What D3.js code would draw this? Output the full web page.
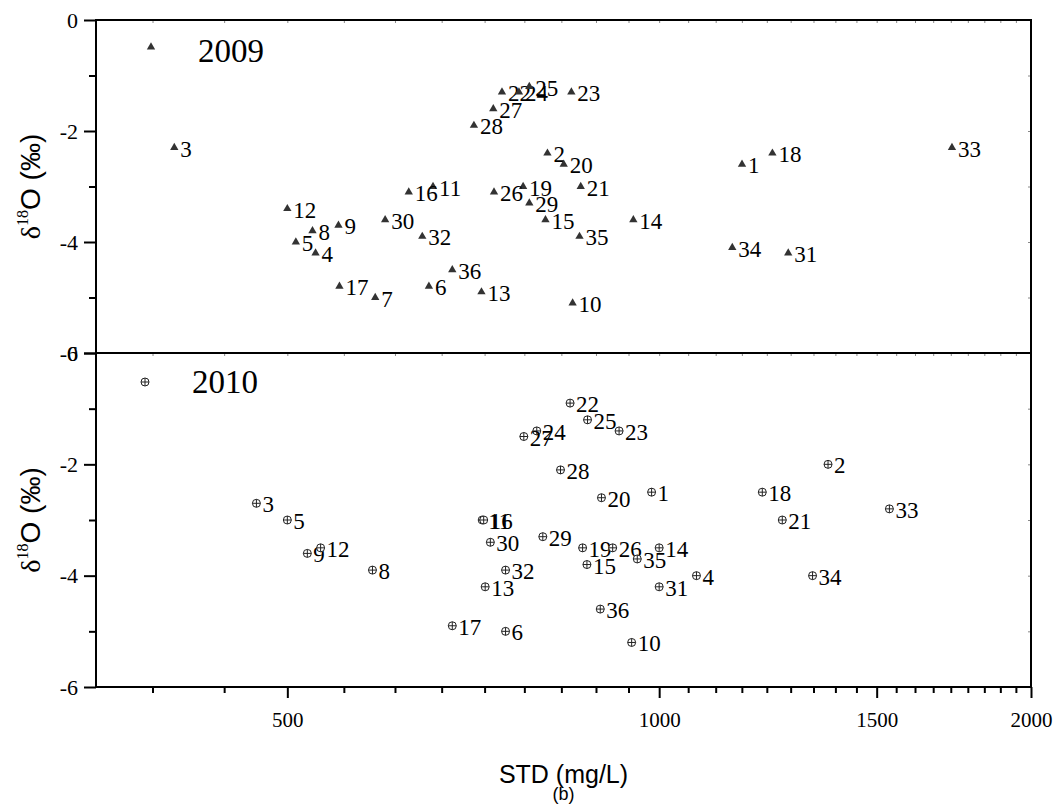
<!DOCTYPE html>
<html>
<head>
<meta charset="utf-8">
<script src="https://cdn.jsdelivr.net/npm/d3@7"></script>
<style>
  body { margin: 0; background: #fff; }
</style>
</head>
<body>
<div id="chart"></div>
<script>
// site numbers and values, 2009
const ids2009 = [1, 2, 3, 4, 5, 6, 7, 8, 9, 10, 11, 12, 13, 14, 15, 16, 17, 18,
  19, 20, 21, 22, 23, 24, 25, 26, 27, 28, 29, 30, 31, 32, 33, 34, 35, 36];
const std2009 = [1167, 812, 405, 527, 508, 651, 589, 524, 550, 851, 656, 500, 718, 953, 809, 627, 551, 1235,
  776, 837, 864, 746, 849, 770, 785, 735, 734, 708, 785, 600, 1272, 643, 1726, 1146, 862, 680];
const o18_2009 = [-2.6, -2.4, -2.3, -4.2, -4.0, -4.8, -5.0, -3.8, -3.7, -5.1, -3.0, -3.4, -4.9, -3.6, -3.6, -3.1, -4.8, -2.4,
  -3.0, -2.6, -3.0, -1.3, -1.3, -1.3, -1.2, -3.1, -1.6, -1.9, -3.3, -3.6, -4.2, -3.9, -2.3, -4.1, -3.9, -4.5];

// 2010 (no site 7)
const ids2010 = [1, 2, 3, 4, 5, 6, 8, 9, 10, 11, 12, 13, 14, 15, 16, 17, 18,
  19, 20, 21, 22, 23, 24, 25, 26, 27, 28, 29, 30, 31, 32, 33, 34, 35, 36];
const std2010 = [986, 1370, 472, 1072, 500, 751, 586, 519, 950, 719, 532, 723, 1000, 874, 721, 680, 1212,
  867, 898, 1258, 847, 928, 796, 875, 917, 777, 832, 805, 730, 1000, 751, 1536, 1331, 960, 896];
const o18_2010 = [-2.5, -2.0, -2.7, -4.0, -3.0, -5.0, -3.9, -3.6, -5.2, -3.0, -3.5, -4.2, -3.5, -3.8, -3.0, -4.9, -2.5,
  -3.5, -2.6, -3.0, -0.9, -1.4, -1.4, -1.2, -3.5, -1.5, -2.1, -3.3, -3.4, -4.2, -3.9, -2.8, -4.0, -3.7, -4.6];

const xMajor = [500, 1000, 1500, 2000];
const yMajor = [0, -2, -4, -6];
const yMinor = [-1, -3, -5];

const width = 1059;
const height = 805;
const left = 96, right = 1031;
const panels = [
  { year: '2009', ids: ids2009, xs: std2009, ys: o18_2009, top: 20, bottom: 353, marker: 'tri' },
  { year: '2010', ids: ids2010, xs: std2010, ys: o18_2010, top: 353, bottom: 687, marker: 'cross' },
];

const serif = '"Times New Roman", "Liberation Serif", serif';
const sans = 'Arial, "Liberation Sans", sans-serif';

const svg = d3.select('#chart').append('svg')
  .attr('width', width)
  .attr('height', height);

const x = d3.scaleLog().domain([350, 2000]).range([left, right]);

// minor ticks every 500/9 like the original
const step = 500 / 9;
const xMinor = d3.range(500 - 2 * step, 2000, step)
  .filter((v) => xMajor.every((m) => Math.abs(m - v) > 1));

const tri = d3.symbol().type(d3.symbolTriangle).size(30);

function drawCross(g, cx, cy) {
  const m = g.append('g').attr('transform', `translate(${cx},${cy})`);
  m.append('circle').attr('r', 4).attr('fill', '#fff')
    .attr('stroke', '#222').attr('stroke-width', 1);
  m.append('line').attr('x1', -4).attr('x2', 4).attr('stroke', '#222').attr('stroke-width', 1);
  m.append('line').attr('y1', -4).attr('y2', 4).attr('stroke', '#222').attr('stroke-width', 1);
}

panels.forEach((p) => {
  const y = d3.scaleLinear().domain([-6, 0]).range([p.bottom, p.top]);
  const g = svg.append('g');

  // faint mirror ticks on top and right
  g.append('g').attr('transform', `translate(0,${p.top})`)
    .call(d3.axisBottom(x).tickValues(xMinor.concat(xMajor)).tickSize(3).tickFormat(''))
    .call((a) => a.select('.domain').remove())
    .selectAll('line').attr('stroke', '#888');
  g.append('g').attr('transform', `translate(${right},0)`)
    .call(d3.axisLeft(y).tickValues(yMajor.concat(yMinor)).tickSize(3).tickFormat(''))
    .call((a) => a.select('.domain').remove())
    .selectAll('line').attr('stroke', '#888');

  // y axis
  const yAx = g.append('g').attr('transform', `translate(${left},0)`)
    .call(d3.axisLeft(y).tickValues(yMajor).tickSize(12).tickPadding(6).tickFormat((d) => String(d)));
  yAx.select('.domain').remove();
  yAx.attr('font-family', serif);
  yAx.selectAll('line').attr('stroke-width', 2);
  yAx.selectAll('text').attr('font-size', 22).attr('fill', '#000')
    .attr('font-family', serif);

  const yMin = g.append('g').attr('transform', `translate(${left},0)`)
    .call(d3.axisLeft(y).tickValues(yMinor).tickSize(7).tickFormat(''));
  yMin.select('.domain').remove();
  yMin.selectAll('line').attr('stroke-width', 2);

  // frame
  g.append('rect')
    .attr('x', left).attr('y', p.top)
    .attr('width', right - left).attr('height', p.bottom - p.top)
    .attr('fill', 'none').attr('stroke', '#000').attr('stroke-width', 2);

  // axis title
  const ty = (p.top + p.bottom) / 2;
  const t = g.append('text')
    .attr('transform', `translate(40,${ty}) rotate(-90)`)
    .attr('text-anchor', 'middle')
    .attr('font-family', sans)
    .attr('font-size', 28);
  t.append('tspan').attr('font-family', serif).text('δ');
  t.append('tspan').attr('font-family', serif).attr('font-size', 16).attr('dy', -12).text('18');
  t.append('tspan').attr('dy', 12).text('O (‰)');

  // points
  const pts = g.append('g');
  p.ids.forEach((id, i) => {
    const cx = x(p.xs[i]);
    const cy = y(p.ys[i]);
    if (p.marker === 'tri') {
      pts.append('path').attr('d', tri).attr('fill', '#333')
        .attr('transform', `translate(${cx},${cy})`);
    } else {
      drawCross(pts, cx, cy);
    }
    pts.append('text')
      .attr('x', cx + 6)
      .attr('y', cy + 9)
      .attr('font-family', serif)
      .attr('font-size', 23)
      .text(id);
  });

  // legend
  if (p.marker === 'tri') {
    g.append('path').attr('d', tri).attr('fill', '#333')
      .attr('transform', `translate(151,${p.top + 27})`);
  } else {
    drawCross(g, 145, p.top + 29);
  }
  g.append('text')
    .attr('x', p.marker === 'tri' ? 198 : 192)
    .attr('y', p.top + (p.marker === 'tri' ? 42 : 40))
    .attr('font-family', serif)
    .attr('font-size', 33)
    .text(p.year);
});

// x axis on the bottom panel
const xAx = svg.append('g').attr('transform', 'translate(0,687)')
  .call(d3.axisBottom(x).tickValues(xMajor).tickSize(11).tickPadding(14).tickFormat(d3.format('d')));
xAx.select('.domain').remove();
xAx.selectAll('line').attr('stroke-width', 2);
xAx.selectAll('text').attr('font-size', 21).attr('fill', '#000')
  .attr('font-family', serif);

const xMin = svg.append('g').attr('transform', 'translate(0,687)')
  .call(d3.axisBottom(x).tickValues(xMinor).tickSize(6).tickFormat(''));
xMin.select('.domain').remove();
xMin.selectAll('line').attr('stroke-width', 2);

svg.append('text')
  .attr('x', (left + right) / 2)
  .attr('y', 783)
  .attr('text-anchor', 'middle')
  .attr('font-family', sans)
  .attr('font-size', 25)
  .text('STD (mg/L)');

svg.append('text')
  .attr('x', (left + right) / 2)
  .attr('y', 800)
  .attr('text-anchor', 'middle')
  .attr('font-family', sans)
  .attr('font-size', 18)
  .text('(b)');
</script>
</body>
</html>
